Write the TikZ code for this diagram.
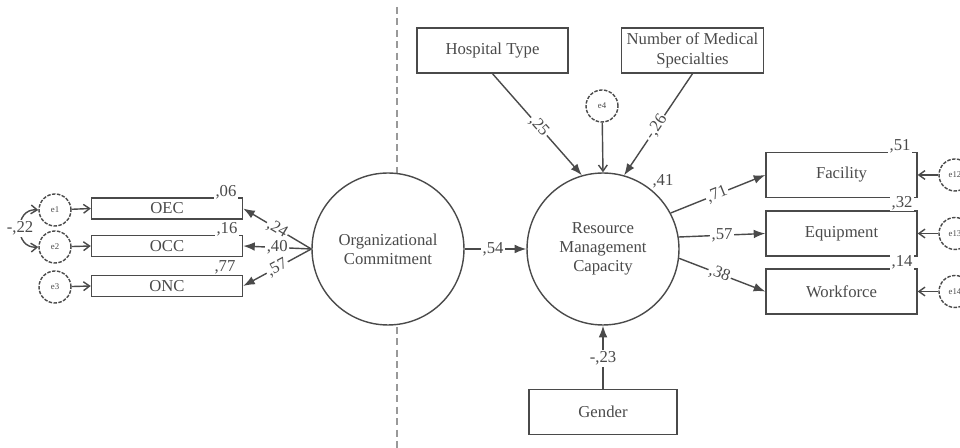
\documentclass[tikz,border=0pt]{standalone}
\usepackage{fontspec}
\setmainfont{Liberation Serif}
\usetikzlibrary{arrows.meta}

\definecolor{ink}{HTML}{4A4A4A}

\begin{document}
\begin{tikzpicture}[x=0.02cm, y=-0.02cm, >=Latex, line width=0.8pt, color=ink,
    obs/.style={draw, rectangle, minimum width=3.02cm, minimum height=0.9cm, inner sep=0pt, align=center, font=\fontsize{9.5}{11}\selectfont},
    ind/.style={obs, minimum height=0.42cm},
    lat/.style={draw, circle, minimum size=3.04cm, inner sep=0pt, fill=white, align=center, font=\fontsize{9.5}{11}\selectfont},
    err/.style={draw, circle, dash pattern=on 2pt off 0.8pt, minimum size=0.64cm, inner sep=0pt, fill=white, font=\fontsize{5}{5}\selectfont},
    coef/.style={fill=white, inner sep=0.8pt, font=\fontsize{9.5}{10}\selectfont},
    eps/.style={-{Straight Barb[length=3.5pt, width=5pt]}}]
    \useasboundingbox (0,0) rectangle (960,448);

    % split between the two parts
    \draw[dash pattern=on 4pt off 2.5pt, line width=0.6pt, gray!80] (397,7) -- (397,448);

    % latent variables
    \node[lat] (oc) at (388,249) {Organizational\\Commitment};
    \node[lat] (rmc) at (603,249) {Resource\\Management\\Capacity};

    % exogenous boxes
    \node[obs] (ht) at (492.5,50.5) {Hospital Type};
    \node[obs, minimum width=2.84cm] (nms) at (692.5,50.5) {Number of Medical\\Specialties};
    \node[obs, minimum width=2.96cm] (gen) at (603,412) {Gender};

    % indicators of commitment
    \node[ind] (oec) at (167,208.5) {OEC};
    \node[ind] (occ) at (167,246) {OCC};
    \node[ind] (onc) at (167,286) {ONC};

    % indicators of capacity
    \node[obs] (fac) at (841.5,175) {Facility};
    \node[obs] (equ) at (841.5,233.5) {Equipment};
    \node[obs] (wor) at (841.5,291.5) {Workforce};

    % error terms
    \node[err] (e1) at (55,210) {e1};
    \node[err] (e2) at (55,247) {e2};
    \node[err] (e3) at (55,287) {e3};
    \node[err] (e4) at (602,106) {e4};
    \node[err] (e12) at (955,175) {e12};
    \node[err] (e13) at (955,233.5) {e13};
    \node[err] (e14) at (955,291.5) {e14};

    \path[->]
    (oc.west) edge node[coef, sloped, pos=0.5] {,24} (oec.east)
    (oc.west) edge node[coef, pos=0.5] {,40} (occ.east)
    (oc.west) edge node[coef, sloped, pos=0.5] {,57} (onc.east)
    (oc.east) edge node[coef, pos=0.46] {,54} (rmc.west)
    (ht.south) edge node[coef, sloped, pos=0.52] {,25} (rmc.106)
    (nms.south) edge node[coef, sloped, pos=0.53] {-,26} (rmc.74)
    (gen.north) edge node[coef, pos=0.48] {-,23} (rmc.south)
    (rmc.28) edge node[coef, sloped, pos=0.49] {,71} (fac.west)
    (rmc.9) edge node[coef, pos=0.5] {,57} (equ.west)
    (rmc.-7) edge node[coef, sloped, pos=0.47] {,38} (wor.west);

    \path[eps]
    (e1) edge (oec.west)
    (e2) edge (occ.west)
    (e3) edge (onc.west)
    (e4) edge (rmc.north)
    (e12) edge (fac.east)
    (e13) edge (equ.east)
    (e14) edge (wor.east);

    % covariance of e1 and e2
    \draw[{Straight Barb[length=3.5pt, width=5pt]}-{Straight Barb[length=3.5pt, width=5pt]}]
      (e1.west) .. controls (14,208) and (14,249) .. node[coef] (cv) {-,22} (e2.west);

    % squared multiple correlations
    \node[coef] (r1) at (226,192) {,06};
    \node[coef] (r2) at (227,229) {,16};
    \node[coef] (r3) at (225,267) {,77};
    \node[coef] (r4) at (663,181) {,41};
    \node[coef] (r5) at (900,146) {,51};
    \node[coef] (r6) at (902,203) {,32};
    \node[coef] (r7) at (902,262) {,14};
\end{tikzpicture}
\end{document}
